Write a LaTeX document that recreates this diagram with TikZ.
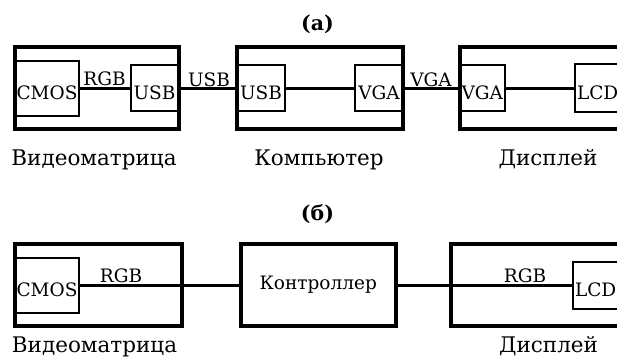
\documentclass[tikz,border=0pt]{standalone}
\usepackage{fontspec}
\setmainfont{DejaVu Serif}
\usepackage{tikz}
\usetikzlibrary{positioning}
\tikzset{
	unit/.style={draw, line width=4pt, inner sep=0pt},
	port/.style={draw, line width=2pt, inner sep=0pt, text height=22pt, text depth=0pt, font=\fontsize{18.5}{18}\selectfont},
	link/.style={line width=3pt},
	tag/.style={anchor=base, inner sep=0pt, font=\fontsize{18.5}{18}\selectfont},
	caption/.style={anchor=base, inner sep=0pt, font=\fontsize{21.5}{22}\selectfont},
	panel/.style={inner sep=0pt, font=\bfseries\fontsize{20.5}{20}\selectfont}
}

\begin{document}
\begin{tikzpicture}[x=1pt, y=-1pt]
	\useasboundingbox (0,0) rectangle (617,356);
	\clip (0,0) rectangle (617,356);
	% (a)
	\node[panel] (pa) at (317.5,24) {(а)};
	\node[unit, minimum width=164.5pt, minimum height=82.5pt] (vmA) at (96.75,87.75) {};
	\node[unit, minimum width=166pt, minimum height=82.5pt] (pcA) at (320,87.75) {};
	\node[unit, minimum width=180.5pt, minimum height=82.5pt] (dispA) at (549.75,87.75) {};
	\node[port, minimum width=64pt, minimum height=55pt] (cmosA) at (47,88) {CMOS};
	\node[port, minimum width=47pt, minimum height=46pt] (usbA) at (154.5,88) {USB};
	\node[port, minimum width=48pt, minimum height=46pt] (usbB) at (261,88) {USB};
	\node[port, minimum width=48pt, minimum height=46pt] (vgaA) at (379,88) {VGA};
	\node[port, minimum width=45.5pt, minimum height=46pt] (vgaB) at (482.25,88) {VGA};
	\node[port, minimum width=75pt, minimum height=48pt, text width=71pt, align=left] (lcdA) at (612.5,88) {LCD};
	\draw[link] (cmosA) -- (usbA);
	\draw[link] (usbA) -- (usbB);
	\draw[link] (usbB) -- (vgaA);
	\draw[link] (vgaA) -- (vgaB);
	\draw[link] (vgaB) -- (lcdA);
	\node[tag] (rgbA) at (104.5,85.5) {RGB};
	\node[tag] (usbL) at (209,86) {USB};
	\node[tag] (vgaL) at (431,86) {VGA};
	\node[caption] (capvmA) at (94,165) {Видеоматрица};
	\node[caption] (cappcA) at (319,165) {Компьютер};
	\node[caption] (capdispA) at (548,165) {Дисплей};
	% (б)
	\node[panel] (pb) at (317.5,214) {(б)};
	\node[unit, minimum width=167pt, minimum height=82pt] (vmB) at (98.5,285) {};
	\node[unit, minimum width=154.5pt, minimum height=82pt, font=\fontsize{18.5}{18}\selectfont] (ctrl) at (318.25,285) {Контроллер};
	\node[unit, minimum width=189pt, minimum height=82pt] (dispB) at (545.5,285) {};
	\node[port, minimum width=64pt, minimum height=55pt] (cmosB) at (47,285) {CMOS};
	\node[port, minimum width=77pt, minimum height=47pt, text width=73pt, align=left] (lcdB) at (611.5,285) {LCD};
	\draw[link] (cmosB) -- (ctrl);
	\draw[link] (ctrl) -- (lcdB);
	\node[tag] (rgbB) at (121,282) {RGB};
	\node[tag] (rgbC) at (525,282) {RGB};
	\node[caption] (capvmB) at (94.5,352) {Видеоматрица};
	\node[caption] (capdispB) at (548.5,352) {Дисплей};
\end{tikzpicture}
\end{document}
